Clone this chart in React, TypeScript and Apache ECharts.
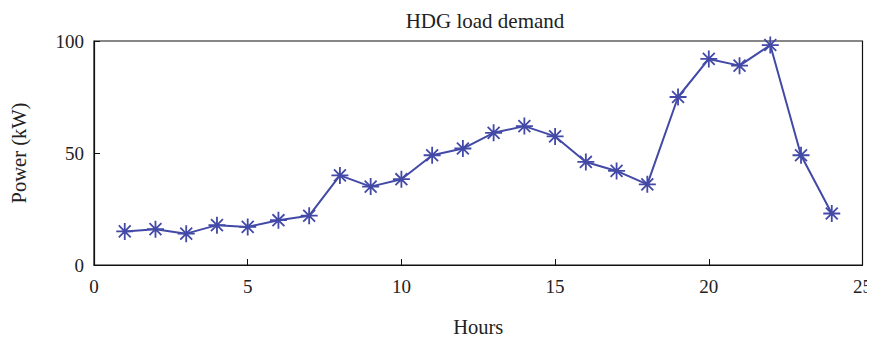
import React, { useEffect, useRef } from "react";
import * as echarts from "echarts";

const hours = [1, 2, 3, 4, 5, 6, 7, 8, 9, 10, 11, 12, 13, 14, 15, 16, 17, 18, 19, 20, 21, 22, 23, 24];
const demand = [15, 16, 14, 17.8, 17, 20, 22, 40, 35, 38.3, 49, 52, 59, 62, 57.4, 46, 42, 36, 75, 92, 89, 98.2, 49, 23];
const title = "HDG load demand";
const xName = "Hours";
const yName = "Power (kW)";

const color = "#4249a6";
const font = "'Liberation Serif', 'DejaVu Serif', serif";

export default function App() {
  const ref = useRef<HTMLDivElement>(null);
  useEffect(() => {
    if (!ref.current) return;
    const chart = echarts.init(ref.current, null, { renderer: "svg" });
    chart.setOption({
      animation: false,
      backgroundColor: "#fff",
      title: {
        text: title,
        left: 480,
        textAlign: "center",
        top: 5,
        textStyle: { fontFamily: font, fontSize: 21, fontWeight: "normal", color: "#222" },
      },
      grid: {
        left: 93,
        top: 41,
        right: 10,
        bottom: 74,
        show: true,
        borderColor: "#111",
        borderWidth: 1.2,
      },
      xAxis: {
        type: "value",
        min: 0,
        max: 25,
        interval: 5,
        name: xName,
        nameLocation: "middle",
        nameGap: 51,
        nameTextStyle: { fontFamily: font, fontSize: 20.5, color: "#222" },
        axisLine: { show: true, lineStyle: { color: "#111", width: 1.2 } },
        axisTick: { show: true, inside: true, length: 6, lineStyle: { color: "#111" } },
        axisLabel: { fontFamily: font, fontSize: 19, color: "#222", margin: 12 },
        splitLine: { show: false },
      },
      yAxis: {
        type: "value",
        min: 0,
        max: 100,
        interval: 50,
        name: yName,
        nameLocation: "middle",
        nameGap: 65,
        nameTextStyle: { fontFamily: font, fontSize: 20.5, color: "#222" },
        axisLine: { show: true, lineStyle: { color: "#111", width: 1.2 } },
        axisTick: { show: true, inside: true, length: 6, lineStyle: { color: "#111" } },
        axisLabel: { fontFamily: font, fontSize: 19, color: "#222", margin: 10 },
        splitLine: { show: false },
      },
      series: [
        {
          type: "line",
          data: hours.map((h, i) => [h, demand[i]]),
          lineStyle: { color, width: 2 },
          symbol: "path://M0,-10L0,10M-10,0L10,0M-7,-7L7,7M-7,7L7,-7",
          symbolSize: 17,
          itemStyle: { color: "none", borderColor: color, borderWidth: 1.8 },
        },
      ],
    });
    return () => chart.dispose();
  }, []);
  return <div ref={ref} style={{ width: 875, height: 342, marginLeft: -8, marginTop: -8 }} />;
}
